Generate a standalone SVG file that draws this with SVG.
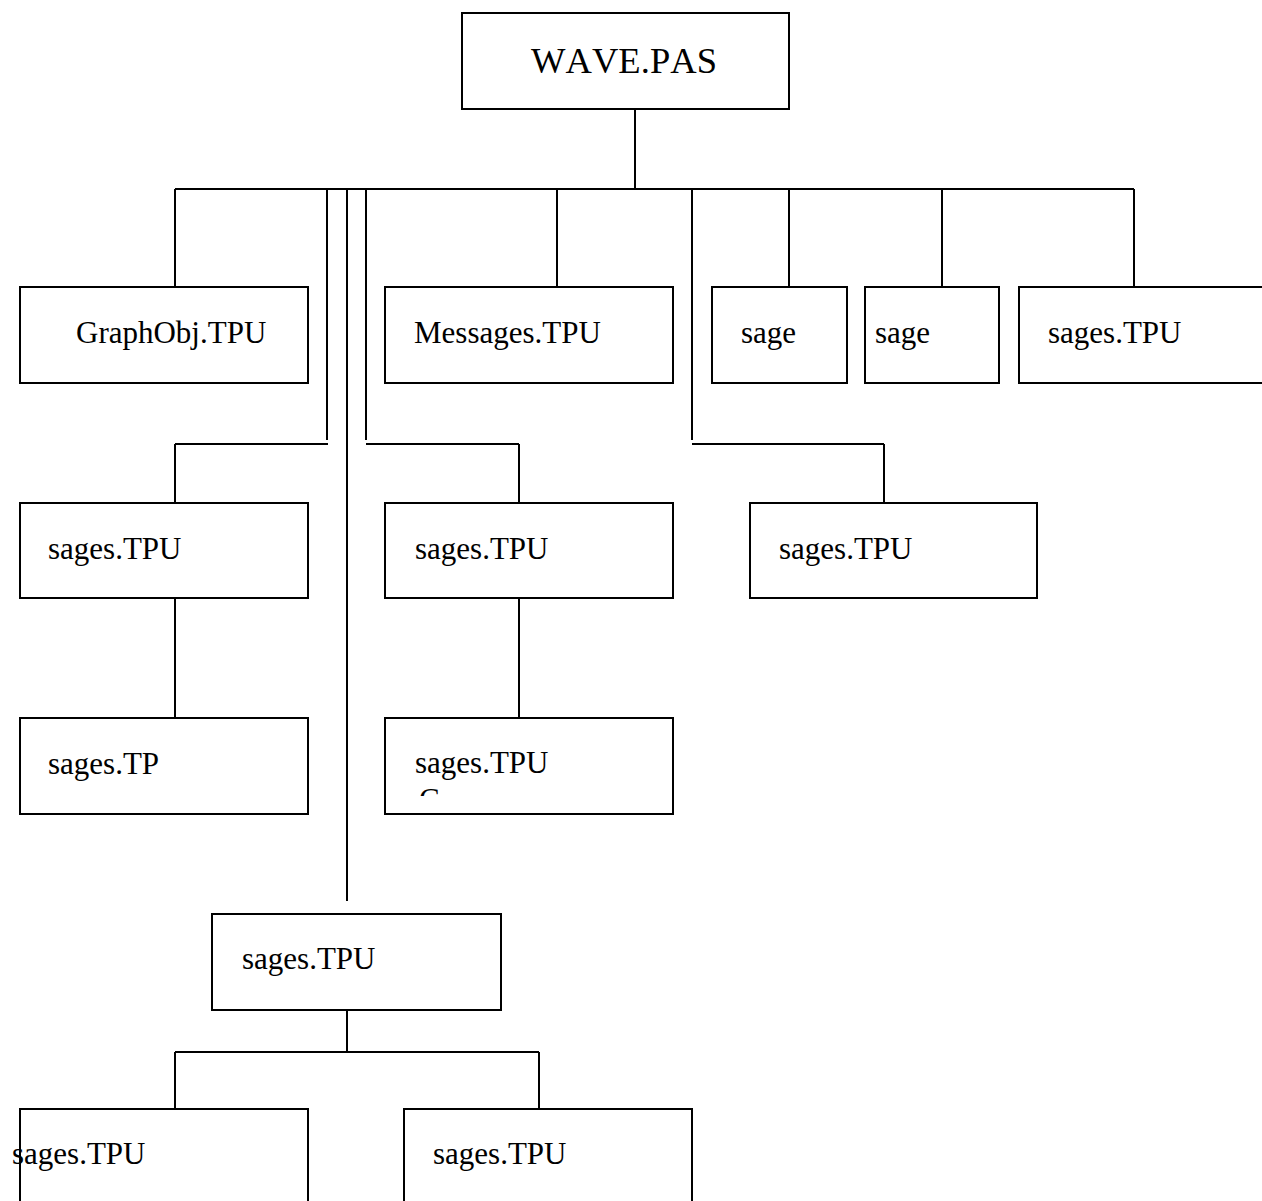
<svg xmlns="http://www.w3.org/2000/svg" width="1262" height="1201" viewBox="0 0 1262 1201">
<style>
.box{fill:none;stroke:#000;stroke-width:2}
.ln{fill:none;stroke:#000;stroke-width:2}
.t{font-family:"Liberation Serif","Times New Roman",serif;font-size:31px;fill:#000;font-kerning:none}
.tt{font-family:"Liberation Serif","Times New Roman",serif;font-size:36.5px;fill:#000;font-kerning:none}
</style>
<defs>
<clipPath id="cclip"><rect x="380" y="780" width="100" height="16"/></clipPath>
</defs>
<rect width="1262" height="1201" fill="#fff"/>
<g id="connectors">
<path class="ln" d="M635 109V189M175 189H1134"/>
<path class="ln" d="M175 189V287M557 189V287M789 189V287M942 189V287M1134 189V287"/>
<path class="ln" d="M327 189V440M347 189V901M366 189V440M692 189V440"/>
<path class="ln" d="M175 444H328M175 444V503M366 444H519M519 444V503M692 444H884M884 444V503"/>
<path class="ln" d="M175 598V718M519 598V718"/>
<path class="ln" d="M347 1010V1052M175 1052H539M175 1052V1109M539 1052V1109"/>
</g>
<g id="n-wave"><rect class="box" x="462" y="13" width="327" height="96"/><text class="tt" x="531" y="73" textLength="186" lengthAdjust="spacing">WAVE.PAS</text></g>
<g id="n-graphobj"><rect class="box" x="20" y="287" width="288" height="96"/><text class="t" x="76" y="343">GraphObj.TPU</text></g>
<g id="n-messages"><rect class="box" x="385" y="287" width="288" height="96"/><text class="t" x="414" y="343">Messages.TPU</text></g>
<g id="n-sage1"><rect class="box" x="712" y="287" width="135" height="96"/><text class="t" x="741" y="343">sage</text></g>
<g id="n-sage2"><rect class="box" x="865" y="287" width="134" height="96"/><text class="t" x="875" y="343">sage</text></g>
<g id="n-sages-r1"><rect class="box" x="1019" y="287" width="260" height="96"/><text class="t" x="1048" y="343">sages.TPU</text></g>
<g id="n-r2a"><rect class="box" x="20" y="503" width="288" height="95"/><text class="t" x="48" y="559">sages.TPU</text></g>
<g id="n-r2b"><rect class="box" x="385" y="503" width="288" height="95"/><text class="t" x="415" y="559">sages.TPU</text></g>
<g id="n-r2c"><rect class="box" x="750" y="503" width="287" height="95"/><text class="t" x="779" y="559">sages.TPU</text></g>
<g id="n-r3a"><rect class="box" x="20" y="718" width="288" height="96"/><text class="t" x="48" y="774">sages.TP</text></g>
<g id="n-r3b"><rect class="box" x="385" y="718" width="288" height="96"/><text class="t" x="415" y="773">sages.TPU</text><text class="t" x="419" y="810" clip-path="url(#cclip)">C</text></g>
<g id="n-r4"><rect class="box" x="212" y="914" width="289" height="96"/><text class="t" x="242" y="969">sages.TPU</text></g>
<g id="n-r5a"><rect class="box" x="20" y="1109" width="288" height="110"/><text class="t" x="12" y="1164">sages.TPU</text></g>
<g id="n-r5b"><rect class="box" x="404" y="1109" width="288" height="110"/><text class="t" x="433" y="1164">sages.TPU</text></g>
</svg>
